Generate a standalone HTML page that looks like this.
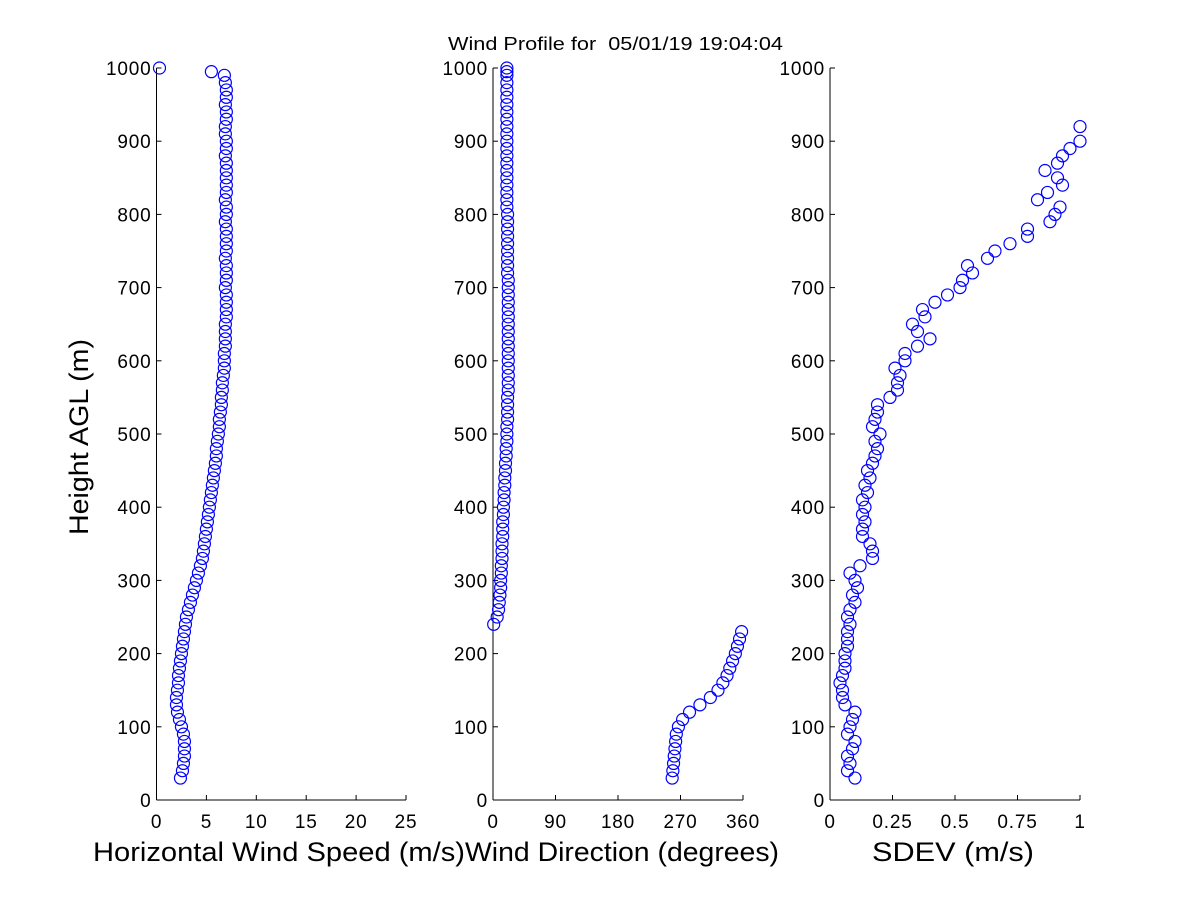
<!DOCTYPE html>
<html><head><meta charset="utf-8"><style>
body{margin:0;background:#fff}
svg text{font-family:"Liberation Sans",Arial,sans-serif;fill:#000}
</style></head><body>
<svg id="chart" width="1200" height="900" xmlns="http://www.w3.org/2000/svg">
<rect width="1200" height="900" fill="#fff"/>
<text x="448" y="50" font-size="18" textLength="335" lengthAdjust="spacingAndGlyphs" xml:space="preserve">Wind Profile for  05/01/19 19:04:04</text>
<text transform="translate(88,437) rotate(-90)" font-size="27" text-anchor="middle" textLength="196" lengthAdjust="spacingAndGlyphs">Height AGL (m)</text>
</svg>
<script>
const heights=[30,40,50,60,70,80,90,100,110,120,130,140,150,160,170,180,190,200,210,220,230,240,250,260,270,280,290,300,310,320,330,340,350,360,370,380,390,400,410,420,430,440,450,460,470,480,490,500,510,520,530,540,550,560,570,580,590,600,610,620,630,640,650,660,670,680,690,700,710,720,730,740,750,760,770,780,790,800,810,820,830,840,850,860,870,880,890,900,910,920,930,940,950,960,970,980,990,995,1000];
const speed=[2.4,2.6,2.7,2.8,2.8,2.8,2.7,2.5,2.3,2.1,2.0,2.0,2.1,2.2,2.2,2.3,2.4,2.5,2.6,2.7,2.8,2.9,3.0,3.2,3.4,3.6,3.8,4.0,4.2,4.4,4.6,4.7,4.8,4.9,5.0,5.1,5.2,5.3,5.4,5.5,5.6,5.7,5.8,5.9,6.0,6.0,6.1,6.2,6.3,6.3,6.4,6.5,6.5,6.6,6.6,6.7,6.8,6.8,6.8,6.9,6.9,6.9,6.9,7.0,7.0,7.0,7.0,6.9,7.0,7.0,7.0,6.9,7.0,7.0,7.0,7.0,6.9,7.0,7.0,6.9,7.0,7.0,7.0,7.0,7.0,6.9,7.0,7.0,6.9,6.9,7.0,7.0,6.9,7.0,7.0,6.9,6.8,5.5,0.3];
const direction=[258,259,260,261,262,263,264,267,273,283,298,313,324,331,337,341,345,349,352,355,358,1,6,8,9,10,11,11,12,12,13,13,13,14,14,14,15,15,16,16,17,17,18,18,19,19,20,20,20,21,21,21,21,22,22,22,22,22,22,22,22,22,22,22,22,22,22,22,22,21,21,21,21,21,21,21,21,21,20,20,20,20,20,20,20,20,20,20,20,20,20,20,20,20,20,20,20,20,20];
const sdev=[0.1,0.07,0.08,0.07,0.09,0.1,0.07,0.08,0.09,0.1,0.06,0.05,0.05,0.04,0.05,0.06,0.06,0.06,0.07,0.07,0.07,0.08,0.07,0.08,0.1,0.09,0.11,0.1,0.08,0.12,0.17,0.17,0.16,0.13,0.13,0.14,0.13,0.14,0.13,0.15,0.14,0.16,0.15,0.17,0.18,0.19,0.18,0.2,0.17,0.18,0.19,0.19,0.24,0.27,0.27,0.28,0.26,0.3,0.3,0.35,0.4,0.35,0.33,0.38,0.37,0.42,0.47,0.52,0.53,0.57,0.55,0.63,0.66,0.72,0.79,0.79,0.88,0.9,0.92,0.83,0.87,0.93,0.91,0.86,0.91,0.93,0.96,1.0,null,1.0,null,null,null,null,null,null,null,null,null];
const speedTicks=["0","5","10","15","20","25"];
const dirTicks=["0","90","180","270","360"];
const sdevTicks=["0","0.25","0.5","0.75","1"];
const yTicks=["0","100","200","300","400","500","600","700","800","900","1000"];

const NS="http://www.w3.org/2000/svg";
const svg=document.getElementById('chart');
const Y0=800,Y1=68;
function yS(h){return Y0-(h/1000)*(Y0-Y1);}
function mk(t,a,p){const e=document.createElementNS(NS,t);for(const k in a)e.setAttribute(k,a[k]);(p||svg).appendChild(e);return e;}
function panel(name,x0,x1,max,xt,vals,title,tx,tw){
  const g=mk('g',{});
  
  
  const xS=v=>x0+(v/max)*(x1-x0);
  mk('line',{x1:x0,y1:Y1,x2:x0,y2:Y0,stroke:'#000','stroke-width':1},g);
  mk('line',{x1:x0,y1:Y0,x2:x1,y2:Y0,stroke:'#000','stroke-width':1},g);
  yTicks.forEach(l=>{const y=yS(+l);
    mk('line',{x1:x0,y1:y,x2:x0+5,y2:y,stroke:'#000'},g);
    const t=mk('text',{x:x0-5,y:y+7,'font-size':19,'letter-spacing':0.8,'text-anchor':'end'},g);t.textContent=l;
    
    });
  xt.forEach(l=>{const x=xS(+l);
    mk('line',{x1:x0+0,y1:Y0,x2:x0,y2:Y0,stroke:'#000'},g);
    mk('line',{x1:x,y1:Y0,x2:x,y2:Y0-5,stroke:'#000'},g);
    const t=mk('text',{x:x,y:Y0+28,'font-size':19,'letter-spacing':0.8,'text-anchor':'middle'},g);t.textContent=l;
    
    });
  const tt=mk('text',{x:tx-tw/2,y:861,'font-size':27,textLength:tw,lengthAdjust:'spacingAndGlyphs'},g);tt.textContent=title;
  
  
  vals.forEach((v,i)=>{if(v===null)return;
    const c=mk('circle',{cx:xS(v),cy:yS(heights[i]),r:6,fill:'none',stroke:'#0000ff','stroke-width':1.2},g);
    
    });
}
panel('wind-speed',156.5,406,25,speedTicks,speed,'Horizontal Wind Speed (m/s)',279,372);
panel('wind-direction',493,743,360,dirTicks,direction,'Wind Direction (degrees)',622,314);
panel('sdev',830,1080,1,sdevTicks,sdev,'SDEV  (m/s)',953,162);
</script>
</body></html>
